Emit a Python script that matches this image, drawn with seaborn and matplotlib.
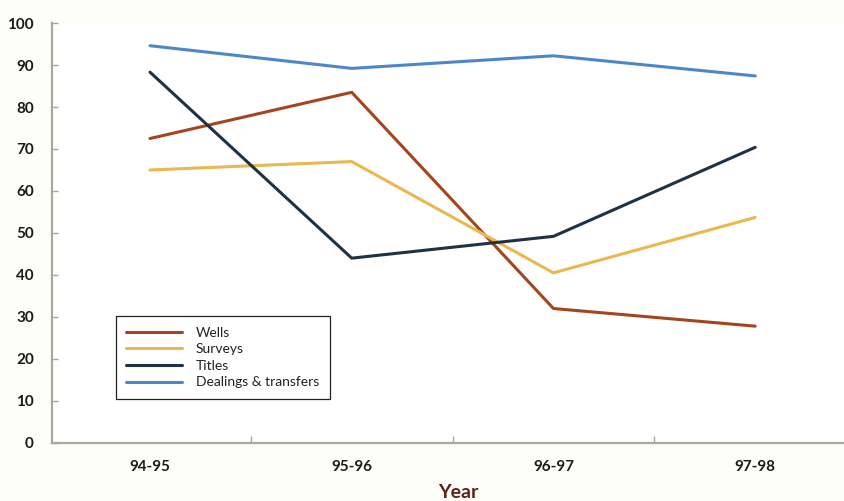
import matplotlib
matplotlib.use("Agg")
import matplotlib.pyplot as plt
from matplotlib.ticker import FixedLocator
import pandas as pd
import seaborn as sns

years = ["94-95", "95-96", "96-97", "97-98"]
wells = [72.5, 83.5, 32.0, 27.8]
surveys = [65.0, 67.0, 40.5, 53.7]
titles = [88.3, 44.0, 49.2, 70.4]
dealings = [94.6, 89.2, 92.2, 87.4]

series_names = ["Wells", "Surveys", "Titles", "Dealings & transfers"]
series_values = [wells, surveys, titles, dealings]
colors = ["#a3461d", "#e9b84f", "#1e3244", "#4d87c6"]

df = pd.DataFrame(
    [(y, name, v) for name, vals in zip(series_names, series_values)
     for y, v in zip(years, vals)],
    columns=["Year", "Series", "Value"],
)

sns.set_theme(style="white")
plt.rcParams["font.family"] = ["Lato", "DejaVu Sans"]

fig = plt.figure(figsize=(8.45, 5.01), dpi=100, facecolor="#fdfdf9")
ax = fig.add_axes([0.0615, 0.116, 0.9385, 0.838])
ax.set_facecolor("white")

sns.lineplot(
    data=df, x="Year", y="Value", hue="Series", hue_order=series_names,
    palette=dict(zip(series_names, colors)), linewidth=2.2, sort=False, ax=ax,
)

ax.set_ylim(0, 100)
ax.set_xlim(-0.486, 3.445)
ax.set_yticks(range(0, 101, 10))
ax.xaxis.set_minor_locator(FixedLocator([0.5, 1.5, 2.5]))

for side in ("top", "right"):
    ax.spines[side].set_visible(False)
for side in ("left", "bottom"):
    ax.spines[side].set_color("#a8a8a0")
    ax.spines[side].set_linewidth(1.6)

ax.tick_params(axis="y", which="major", direction="in", length=4, width=1,
               color="#a8a8a0", labelsize=11, pad=13, left=True)
ax.tick_params(axis="x", which="major", length=0, labelsize=11, pad=12)
ax.tick_params(axis="x", which="minor", direction="in", length=5, width=1,
               color="#a8a8a0", bottom=True)
for lbl in ax.get_yticklabels() + ax.get_xticklabels():
    lbl.set_fontweight("bold")
    lbl.set_color("#1a1a1a")

ax.set_ylabel("")
ax.set_xlabel("")
fig.text(0.542, 0.016, "Year", ha="center", va="center", fontsize=14,
         fontweight="bold", color="#5a2414")

leg = ax.legend(
    loc="upper left", bbox_to_anchor=(0.072, 0.318), frameon=True,
    fancybox=False, edgecolor="#222222", framealpha=1, fontsize=10,
    handlelength=4.0, handletextpad=1.0, labelspacing=0.33,
    borderpad=0.75,
)
leg.get_frame().set_linewidth(0.9)
for t in leg.get_texts():
    t.set_color("#222222")

fig.savefig("out.png", dpi=100, facecolor=fig.get_facecolor())
